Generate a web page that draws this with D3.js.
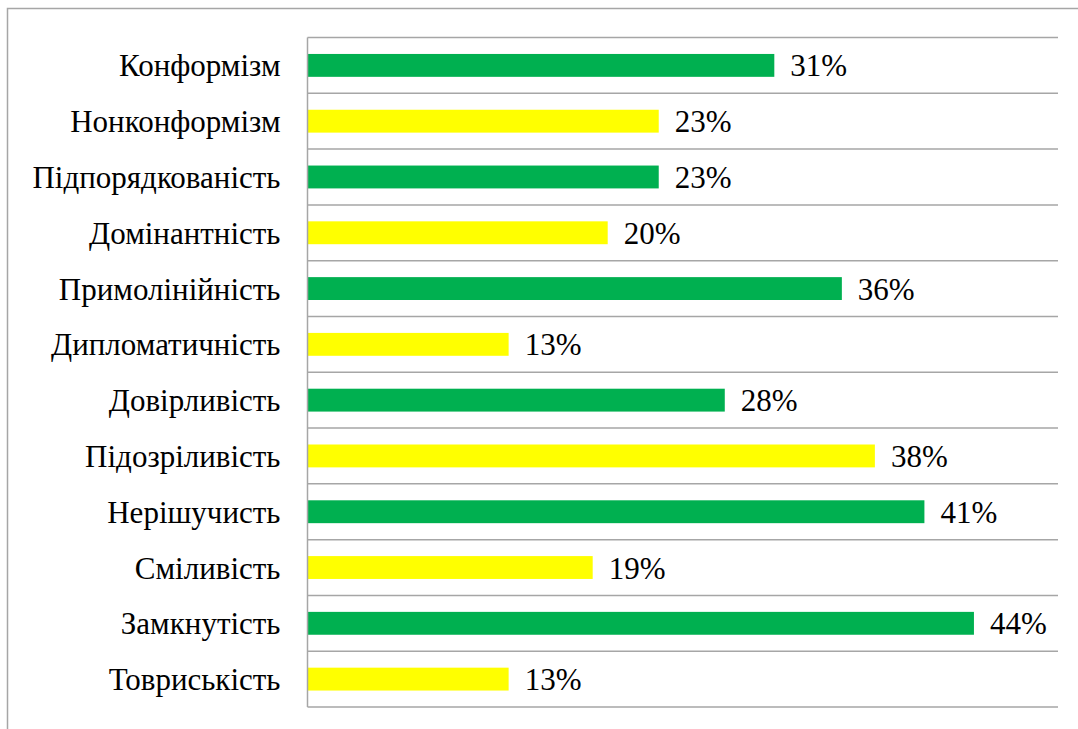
<!DOCTYPE html>
<html><head><meta charset="utf-8">
<script src="https://cdn.jsdelivr.net/npm/d3@7"></script>
</head><body style="margin:0">
<svg id="c" width="1078" height="729"></svg>
<script>
const categories = ["Конформізм","Нонконформізм","Підпорядкованість","Домінантність","Примолінійність","Дипломатичність","Довірливість","Підозріливість","Нерішучисть","Сміливість","Замкнутість","Товриськість"];
const values = [0.311,0.234,0.234,0.200,0.356,0.134,0.278,0.378,0.411,0.190,0.444,0.134];
const colors = ["#00B050","#FFFF00"];
const xMax = 0.5;

const svg = d3.select("#c");
const FF = '"Liberation Serif"';
svg.append("rect").attr("x",7.5).attr("y",8.5).attr("width",1100).attr("height",800)
  .attr("fill","none").attr("stroke","#a6a6a6").attr("stroke-width",1.5);

const mLeft=307.5, mRight=1058, mTop=37.5, mBottom=707;
const x = d3.scaleLinear().domain([0,xMax]).range([mLeft,mRight]);
const y = d3.scaleBand().domain(categories).range([mTop,mBottom]).paddingInner(0.59).paddingOuter(0.295);

const step = (mBottom-mTop)/categories.length;
const gl = d3.range(categories.length+1).map(i=>mTop+i*step);
svg.append("g").selectAll("line").data(gl).join("line")
  .attr("x1",mLeft).attr("x2",mRight).attr("y1",d=>d).attr("y2",d=>d)
  .attr("stroke","#a6a6a6").attr("stroke-width",1.5);

svg.append("g").selectAll("rect").data(categories).join("rect")
  .attr("x",x(0)).attr("y",d=>y(d)).attr("height",y.bandwidth())
  .attr("width",(d,i)=>x(values[i])-x(0))
  .attr("fill",(d,i)=>colors[i%2]);

// axis line
svg.append("line").attr("x1",mLeft).attr("x2",mLeft).attr("y1",mTop).attr("y2",mBottom)
  .attr("stroke","#a6a6a6").attr("stroke-width",1.5);

// category labels
categories.forEach(c=>{
  svg.append("text").attr("x",mLeft-27).attr("y",y(c)+y.bandwidth()/2+11)
    .attr("text-anchor","end").style("font-family",FF).attr("font-size",31).text(c);
});

// value labels
const fmt = d3.format(".0%");
categories.forEach((c,i)=>{
  svg.append("text").attr("x",x(values[i])+16).attr("y",y(c)+y.bandwidth()/2+11)
    .style("font-family",FF).attr("font-size",31).text(fmt(values[i]));
});
</script>
</body></html>
